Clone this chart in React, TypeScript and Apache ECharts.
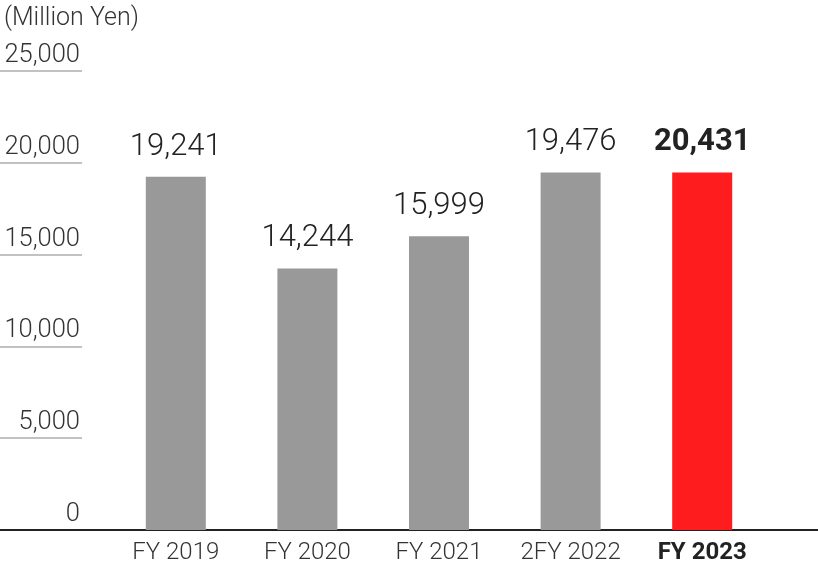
import React, { useEffect, useRef } from "react";
import * as echarts from "echarts";

const categories = ["FY 2019", "FY 2020", "FY 2021", "2FY 2022", "FY 2023"];
// heights of the bars as drawn in the picture
const barHeights = [19241, 14244, 15999, 19476, 19476];
// numbers printed above the bars
const labelValues = [19241, 14244, 15999, 19476, 20431];
const barColors = ["#999999", "#999999", "#999999", "#999999", "#ff1c1f"];
const yMin = 0;
const yMax = 25000;
const yInterval = 5000;
const unitLabel = "(Million Yen)";

const FONT = "Roboto";

export default function App() {
  const ref = useRef<HTMLDivElement>(null);
  useEffect(() => {
    if (!ref.current) return;
    const chart = echarts.init(ref.current, null, { renderer: "svg" });
    const last = categories.length - 1;
    chart.setOption({
      animation: false,
      textStyle: { fontFamily: FONT },
      title: {
        text: unitLabel,
        left: -1,
        top: -1,
        textStyle: { fontFamily: FONT, fontSize: 25, fontWeight: 300, color: "#333" },
      },
      grid: [
        { left: 0, width: 82, top: 71, bottom: 58 },
        { left: 110, right: 50, top: 71, bottom: 58 },
        { left: 0, right: 0, top: 71, bottom: 58 },
      ],
      xAxis: [
        { gridIndex: 0, type: "value", min: 0, max: 1, show: false },
        {
          gridIndex: 1,
          type: "category",
          data: categories,
          axisLine: { show: false },
          axisTick: { show: false },
          axisLabel: {
            interval: 0,
            margin: 9,
            fontSize: 24,
            fontWeight: 300,
            color: "#333",
            fontFamily: FONT,
            formatter: (v: string, i: number) => (i === last ? `{b|${v}}` : v),
            rich: { b: { fontSize: 24, fontWeight: "bold", color: "#222", fontFamily: FONT } },
          },
        },
        {
          gridIndex: 2,
          type: "value",
          min: 0,
          max: 1,
          axisLine: { show: true, onZero: false, lineStyle: { color: "#222", width: 2 } },
          axisTick: { show: false },
          axisLabel: { show: false },
          splitLine: { show: false },
        },
      ],
      yAxis: [
        {
          gridIndex: 0,
          type: "value",
          min: yMin,
          max: yMax,
          interval: yInterval,
          position: "right",
          axisLine: { show: false },
          axisTick: { show: false },
          axisLabel: {
            inside: true,
            margin: 2,
            fontSize: 25.5,
            fontWeight: 300,
            color: "#333",
            fontFamily: FONT,
            verticalAlign: "bottom",
            lineHeight: 26,
            padding: [0, 0, 5, 0],
            formatter: (v: number) => v.toLocaleString("en-US"),
          },
          splitLine: { show: true, lineStyle: { color: "#c2c2c2", width: 2 } },
        },
        { gridIndex: 1, type: "value", min: yMin, max: yMax, interval: yInterval, show: false },
        { gridIndex: 2, type: "value", min: 0, max: 1, show: false },
      ],
      series: [
        {
          type: "bar",
          xAxisIndex: 1,
          yAxisIndex: 1,
          barWidth: 60,
          data: barHeights.map((v, i) => ({ value: v, itemStyle: { color: barColors[i] } })),
          label: {
            show: true,
            position: "top",
            distance: 17,
            fontFamily: FONT,
            fontSize: 31,
            fontWeight: 300,
            color: "#222",
            formatter: (p: any) => {
              const t = labelValues[p.dataIndex].toLocaleString("en-US");
              return p.dataIndex === last ? `{b|${t}}` : t;
            },
            rich: { b: { fontSize: 31, fontWeight: "bold", color: "#222", fontFamily: FONT } },
          },
        },
      ],
    });
    return () => chart.dispose();
  }, []);
  return (
    <div
      ref={ref}
      style={{ position: "fixed", left: 0, top: 0, width: 818, height: 588 }}
    />
  );
}
